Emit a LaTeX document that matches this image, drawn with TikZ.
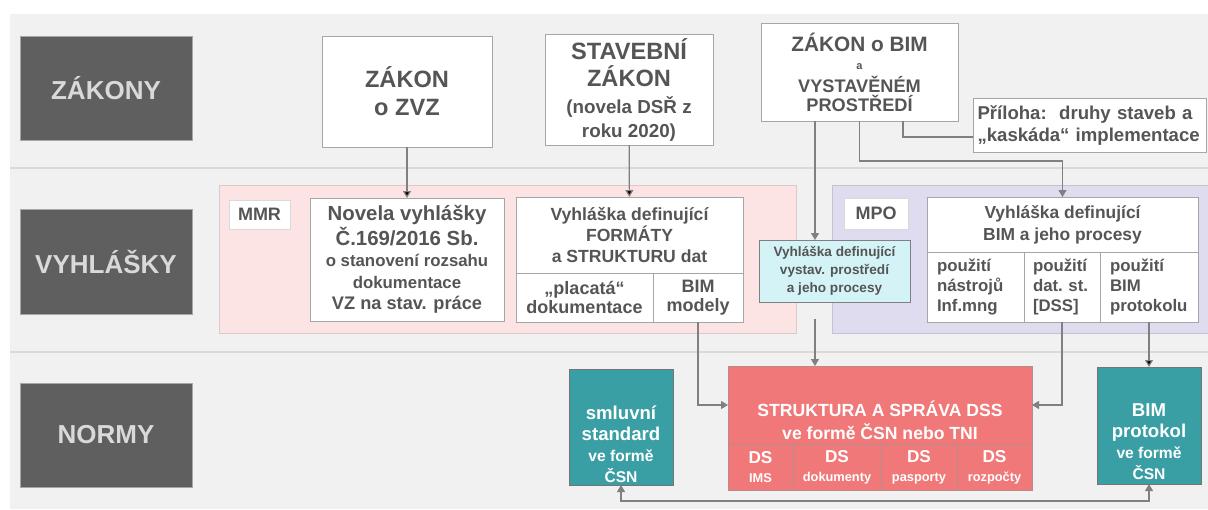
\documentclass[tikz,border=0pt]{standalone}
\usepackage{fontspec}
\setmainfont{Liberation Sans}
\usepackage{tikz}
\usetikzlibrary{arrows.meta}

\definecolor{bgcol}{HTML}{F1F1F1}
\definecolor{sepline}{HTML}{D9D9D9}
\definecolor{bandgray}{HTML}{5F5F5F}
\definecolor{bandtext}{HTML}{D9D9D9}
\definecolor{boxline}{HTML}{A6A6A6}
\definecolor{txt}{HTML}{555555}
\definecolor{mmrpink}{HTML}{FCE4E4}
\definecolor{mpoviolet}{HTML}{E0DCF0}
\definecolor{cyanbox}{HTML}{D3F3F7}
\definecolor{dssred}{HTML}{F07878}
\definecolor{dssline}{HTML}{B88A8A}
\definecolor{normteal}{HTML}{3A9FA5}
\definecolor{connline}{HTML}{808080}

\newcommand{\fsz}[2]{\fontsize{#1}{#2}\selectfont\bfseries}

\begin{document}
\begin{tikzpicture}[x=0.5pt, y=-0.5pt,
		>={Triangle[width=4pt,length=3.5pt]},
		every node/.style = {inner sep=0pt, outer sep=0pt, align=center, font=\bfseries},
		band/.style = {fill=bandgray, draw=boxline, text=bandtext, font=\fsz{13}{15}},
		box/.style = {fill=white, draw=boxline, text=txt},
		tag/.style = {fill=white, draw=sepline, text=txt, font=\fsz{9}{10}},
		zone/.style = {fill=#1, draw=#1!88!black},
		cell/.style = {box, font=\fsz{8.4}{10}, align=left, inner xsep=5pt, minimum height=35pt},
		dssbox/.style = {fill=dssred, draw=dssline},
		dstext/.style = {text=white, font=\fsz{8.8}{11.5}},
		dscell/.style = {dssbox, text=white, font=\fsz{8.6}{9.5}, minimum height=23pt},
		normbox/.style = {fill=normteal, draw=boxline!70!black},
		normtext/.style = {text=white, font=\fsz{9.3}{10.5}},
		conn/.style = {draw=connline, line width=0.6pt},
		sep/.style = {draw=sepline, line width=1pt}
		]
		\useasboundingbox (0,0) rectangle (1208,509);
		\fill[bgcol] (10,14) rectangle (1208,509);
		\draw[sep] (10,168) -- (1208,168);
		\draw[sep] (10,352) -- (1208,352);
		
		% pasy vlevo
		\node (zakony)   [band, minimum width=86pt, minimum height=52pt]   at (106,88)    {ZÁKONY};
		\node (vyhlasky) [band, minimum width=86pt, minimum height=52.5pt] at (106,261.5) {VYHLÁŠKY};
		\node (normy)    [band, minimum width=86pt, minimum height=52pt]   at (106,435)   {NORMY};
		
		% zakony
		\node (zvz) [box, font=\fsz{11.8}{14}, minimum width=85pt, minimum height=55.5pt] at (407,91.5) {ZÁKON\\o ZVZ};
		\node (stav) [box, font=\fsz{11.8}{13.5}, minimum width=84pt, minimum height=55.5pt] at (629,89.5)
			{STAVEBNÍ\\ZÁKON\\{\fsz{9.4}{11}(novela DSŘ z}\\[-1.5pt]{\fsz{9.4}{11}roku 2020)}};
		\node (bimzak) [box, font=\fsz{9.1}{9.5}, minimum width=98.5pt, minimum height=49pt] at (859.5,72)
			{{\fsz{10.4}{11.5}ZÁKON o BIM}\\[-0.5pt]{\fsz{5.5}{9.5}a}\\[2pt]VYSTAVĚNÉM\\PROSTŘEDÍ};
		\node (priloha) [box, font=\fsz{9.3}{11}, minimum width=116.5pt, minimum height=27pt, text width=112pt, align=left] at (1089.5,125)
			{Příloha:\ \ druhy staveb a\\„kaskáda“ implementace};
		
		% vyhlasky
		\node (mmrzone) [zone=mmrpink, minimum width=288.5pt, minimum height=74pt] at (507.5,259) {};
		\node (mpozone) [zone=mpoviolet, minimum width=188pt, minimum height=74pt] at (1020,259) {};
		\node (mmr) [tag, minimum width=30.5pt, minimum height=14.5pt] at (259.5,214.5) {MMR};
		\node (mpo) [tag, minimum width=32pt, minimum height=15.5pt] at (876,213.5) {MPO};
		
		\node (novela) [box, font=\fsz{10.2}{10.8}, minimum width=97pt, minimum height=61.5pt] at (407,259.5)
			{Novela vyhlášky\\Č.169/2016 Sb.\\{\fsz{8.4}{10}o stanovení rozsahu}\\{\fsz{8.4}{10}dokumentace}\\{\fsz{9.1}{10.5}VZ na stav. práce}};
		\node (formtop) [box, font=\fsz{8.8}{10.5}, minimum width=113.5pt, minimum height=38pt] at (629.5,235)
			{Vyhláška definující\\FORMÁTY\\a STRUKTURU dat};
		\node (placata) [box, font=\fsz{9}{9.5}, minimum width=68.5pt, minimum height=24.5pt, anchor=north west] at (formtop.south west)
			{„placatá“\\dokumentace};
		\node (bimmod) [box, font=\fsz{9}{9.5}, minimum width=45pt, minimum height=24.5pt, anchor=north west] at (placata.north east)
			{BIM\\modely};
		
		\node (vystav) [box, fill=cyanbox, draw=connline, font=\fsz{6.8}{9}, minimum width=75.5pt, minimum height=31pt] at (834.5,271)
			{Vyhláška definující\\vystav. prostředí\\a jeho procesy};
		
		\node (mpotop) [box, font=\fsz{8.7}{11}, minimum width=135.5pt, minimum height=27.5pt] at (1062.5,224.5)
			{Vyhláška definující\\BIM a jeho procesy};
		\node (col1) [cell, text width=38.5pt, anchor=north west] at (mpotop.south west) {použití\\nástrojů\\Inf.mng};
		\node (col2) [cell, inner xsep=4.5pt, text width=29pt, anchor=north west] at (col1.north east) {použití\\dat.\ st.\\{[DSS]}};
		\node (col3) [cell, text width=39pt, anchor=north west] at (col2.north east) {použití\\BIM\\protokolu};
		
		% normy
		\node (dsstop) [dssbox, minimum width=152pt, minimum height=39pt,
			label={[dstext, yshift=-7.75pt]center:{STRUKTURA A SPRÁVA DSS\\ve formě ČSN nebo TNI}}] at (880,405) {};
		\node (dsims) [dscell, minimum width=32.5pt, anchor=north west] at (dsstop.south west) {DS\\{\fsz{6.4}{8}IMS}};
		\node (dsdok) [dscell, minimum width=44pt, anchor=north west] at (dsims.north east) {DS\\{\fsz{6.4}{8}dokumenty}};
		\node (dspas) [dscell, minimum width=38pt, anchor=north west] at (dsdok.north east) {DS\\{\fsz{6.4}{8}pasporty}};
		\node (dsroz) [dscell, minimum width=37.5pt, anchor=north west] at (dspas.north east) {DS\\{\fsz{6.4}{8}rozpočty}};
		
		\node (smluvni) [normbox, minimum width=52pt, minimum height=58pt,
			label={[normtext, yshift=-8.75pt]center:{smluvní\\standard\\{\fsz{7.8}{9}ve formě}\\{\fsz{7.8}{9}ČSN}}}] at (621,427) {};
		\node (bimprot) [normbox, minimum width=52pt, minimum height=58.5pt,
			label={[normtext, yshift=-8.25pt]center:{BIM\\protokol\\{\fsz{7.8}{9}ve formě}\\{\fsz{7.8}{9}ČSN}}}] at (1149,425.5) {};
		
		% spojnice
		\path[conn,->]
		(zvz)  edge (novela)
		(stav) edge (formtop)
		(col3) edge (bimprot);
		\draw[conn,->] ([xshift=-22.25pt]bimzak.south) -- ([xshift=-9.75pt]vystav.north);
		\draw[conn,->] (bimzak.south) -- ++(0,40) -| (mpotop.north);
		\draw[conn] ([xshift=21.75pt]bimzak.south) |- ([yshift=-6pt]priloha.west);
		\draw[conn,->,shorten <=8.5pt] ([xshift=-9.75pt]vystav.south) -- ([xshift=-9.75pt]vystav.south |- dsstop.north);
		\draw[conn,->] (bimmod.south) |- (dsstop.west);
		\draw[conn,->] (col2.south) |- (dsstop.east);
		\draw[conn,<->] (smluvni.south) -- ++(0,16) -| (bimprot.south);
\end{tikzpicture}
\end{document}
